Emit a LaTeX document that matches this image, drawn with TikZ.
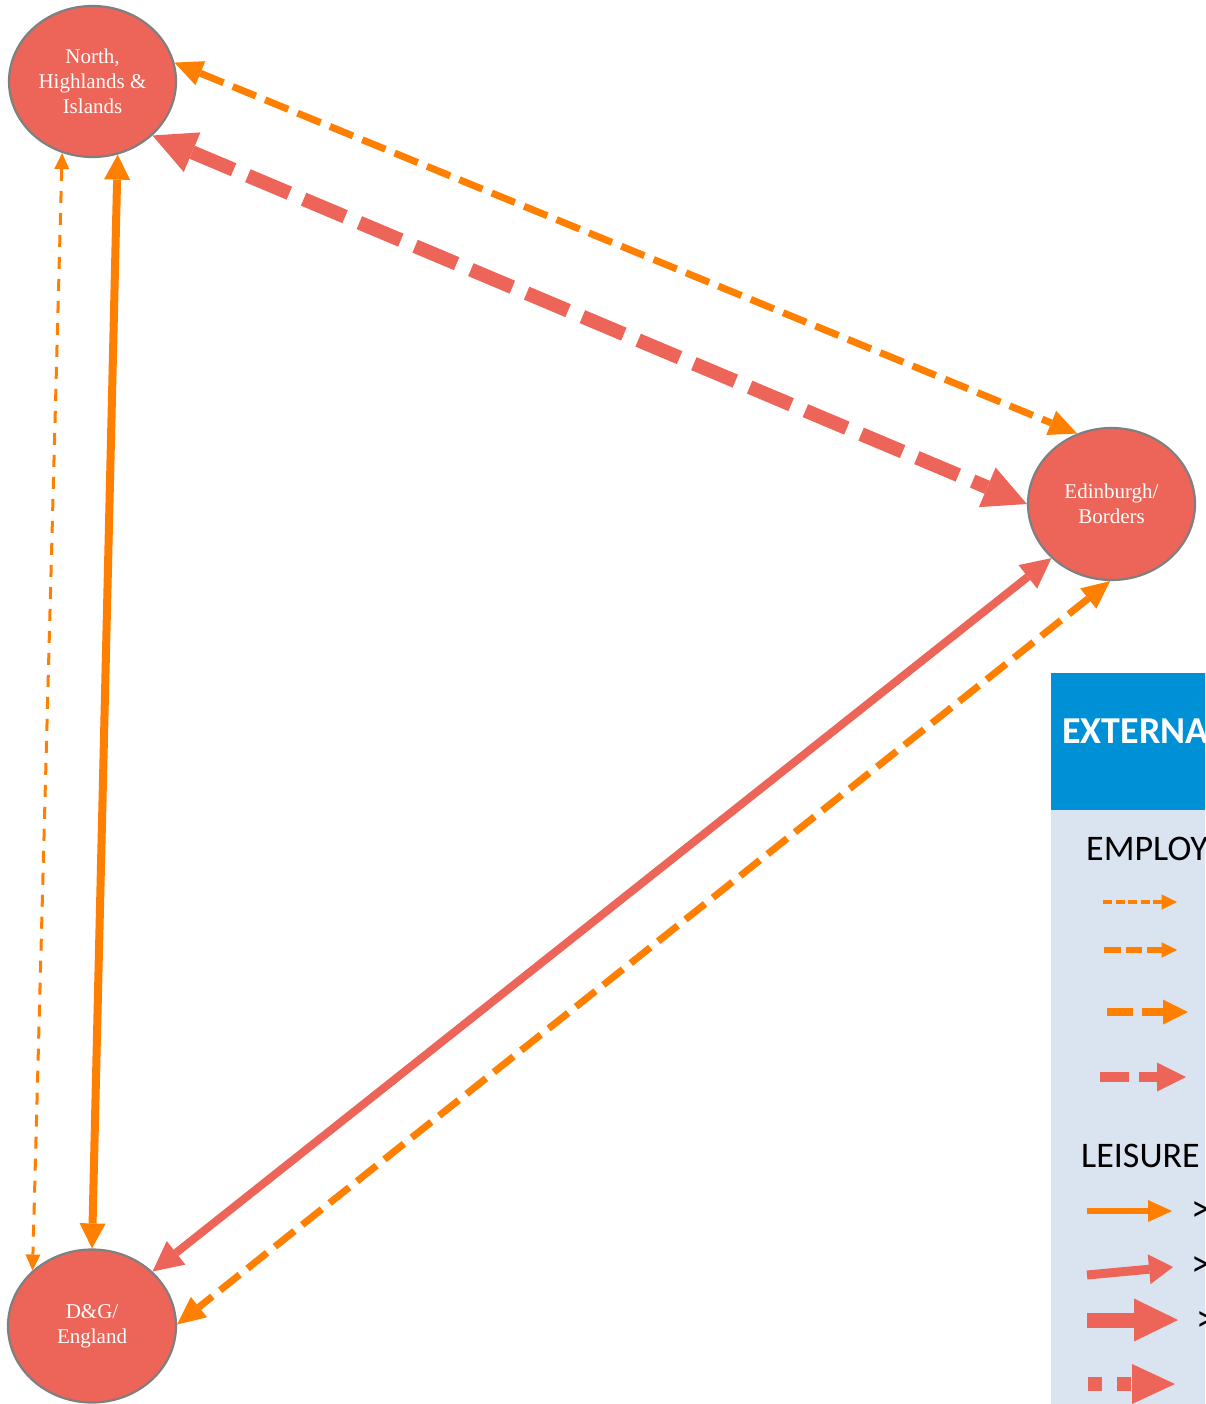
\documentclass[tikz,border=0pt]{standalone}
\usepackage{fontspec}
\setmainfont{Liberation Serif}
\newfontfamily\lgd{Carlito}
\usetikzlibrary{arrows.meta,shapes.geometric}
\definecolor{coral}{HTML}{EC6558}
\definecolor{orng}{HTML}{FF7F00}
\definecolor{rim}{HTML}{7F7F7F}
\definecolor{hdr}{HTML}{0090D5}
\definecolor{pane}{HTML}{DAE3F0}
\begin{document}
\begin{tikzpicture}[x=1pt,y=-1pt,
  place/.style={ellipse,fill=coral,draw=rim,line width=2.2pt,inner sep=0pt,text=white,align=center,font=\fontsize{21}{25}\selectfont},
  orthin/.style={draw=orng,line width=3pt,dash pattern=on 12pt off 10pt,>={Triangle[length=16pt,width=15pt,line width=0pt]},<->},
  ormid/.style={draw=orng,line width=7pt,dash pattern=on 25pt off 10pt,>={Triangle[length=28pt,width=26pt,line width=0pt]},<->},
  orsolid/.style={draw=orng,line width=8pt,>={Triangle[length=25pt,width=26pt,line width=0pt]},<->},
  cordash/.style={draw=coral,line width=14pt,dash pattern=on 45pt off 15.5pt,>={Triangle[length=43pt,width=43pt,line width=0pt]},<->},
  corsolid/.style={draw=coral,line width=8pt,>={Triangle[length=30pt,width=30pt,line width=0pt]},<->},
  lgtitle/.style={anchor=base west,inner sep=0pt,font=\lgd\fontsize{36}{40}\selectfont},
  gt/.style={anchor=west,inner sep=0pt,font=\lgd\fontsize{38}{42}\selectfont}
]
\useasboundingbox (0,0) rectangle (1205,1404);
\clip (0,0) rectangle (1205,1404);
\fill[white] (0,0) rectangle (1205,1404);

% nodes
\node[place,minimum width=167pt,minimum height=151pt] (nhi) at (92.5,81.5) {North,\\Highlands \&\\Islands};
\node[place,minimum width=167pt,minimum height=152pt] (edb) at (1111.5,504) {Edinburgh/\\Borders};
\node[place,minimum width=168pt,minimum height=153pt] (dge) at (92,1326) {D\&G/\\England};

% connectors
\draw[ormid] (nhi.13) -- (edb.116);
\draw[cordash] (nhi.-42.5) -- (edb.180);
\draw[orsolid] (nhi.-71.6) -- (dge.90);
\draw[orthin] (nhi.-113) -- (dge.137.5);
\draw[corsolid] (edb.222) -- (dge.42.5);
\draw[ormid] (edb.269) -- (dge.1);

% legend
\fill[pane] (1051,810) rectangle (1400,1450);
\fill[hdr] (1051,673) rectangle (1400,810);
\node[anchor=base west,inner sep=0pt,text=white,font=\lgd\bfseries\fontsize{38}{42}\selectfont] (ttl) at (1062,743) {EXTERNAL};
\node[lgtitle] (emp) at (1086,860) {EMPLOYMENT};
\node[lgtitle] (lei) at (1081,1167) {LEISURE};

\draw[orng,line width=3.3pt,dash pattern=on 9pt off 3.5pt,-{Triangle[length=15.5pt,width=15.5pt,line width=0pt]}] (1103,902) -- (1177,902);
\draw[orng,line width=6pt,dash pattern=on 16.7pt off 5pt,-{Triangle[length=15.5pt,width=15.7pt,line width=0pt]}] (1104,950) -- (1177,950);
\draw[orng,line width=8.3pt,dash pattern=on 26pt off 9pt,-{Triangle[length=25pt,width=25pt,line width=0pt]}] (1107,1012) -- (1188,1012);
\draw[coral,line width=10pt,dash pattern=on 29pt off 10pt,-{Triangle[length=29pt,width=29pt,line width=0pt]}] (1100,1077) -- (1186,1077);

\draw[orng,line width=6pt,-{Triangle[length=24pt,width=22pt,line width=0pt]}] (1087,1211) -- (1172,1211);
\draw[coral,line width=9pt,-{Triangle[length=24pt,width=30pt,line width=0pt]}] (1087,1275) -- (1173,1267);
\draw[coral,line width=15pt,-{Triangle[length=44pt,width=43pt,line width=0pt]}] (1087,1320) -- (1178,1320);
\draw[coral,line width=14pt,dash pattern=on 14pt off 15pt,-{Triangle[length=43pt,width=40pt,line width=0pt]}] (1088,1384) -- (1175,1384);

\node[gt] (g1) at (1191,1212) {>};
\node[gt] (g2) at (1191,1267) {>};
\node[gt] (g3) at (1196,1322) {>};
\end{tikzpicture}
\end{document}
